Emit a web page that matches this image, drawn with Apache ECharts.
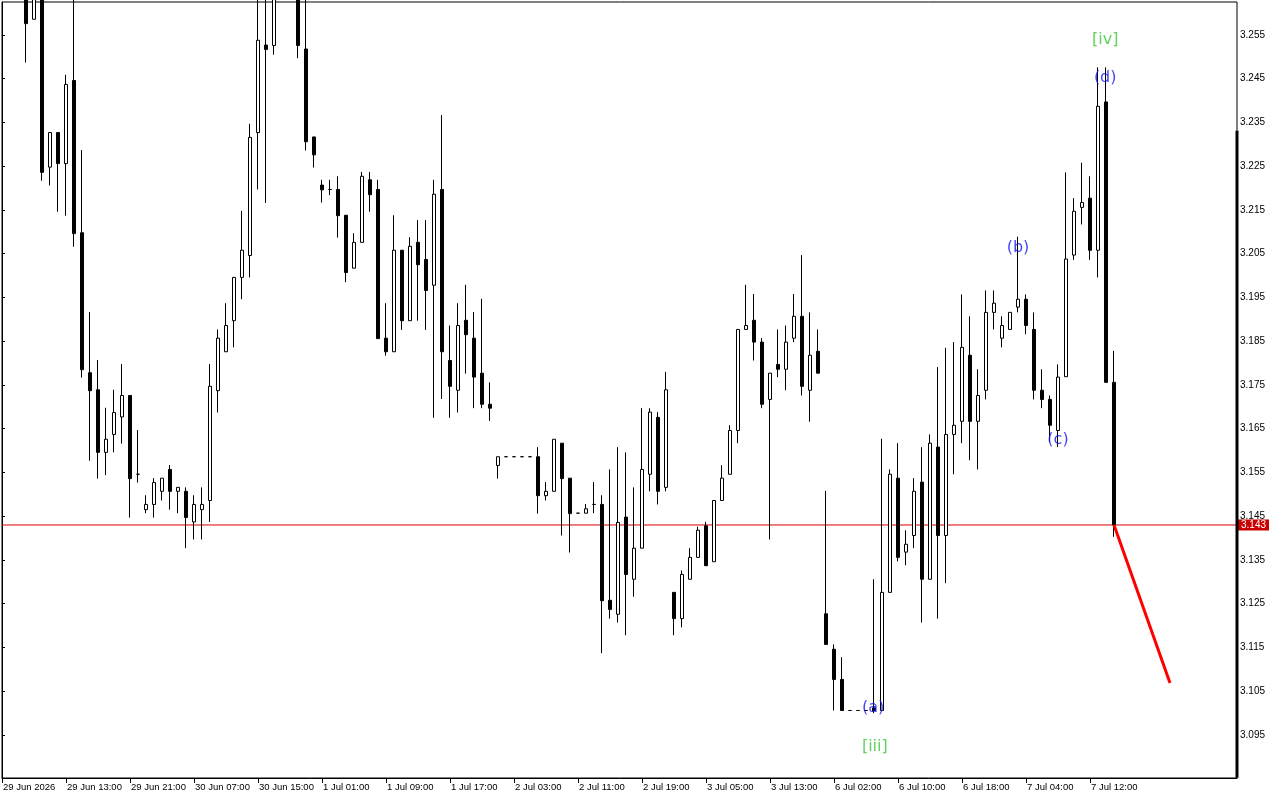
<!DOCTYPE html>
<html>
<head>
<meta charset="utf-8">
<script src="https://cdn.jsdelivr.net/npm/echarts@6/dist/echarts.min.js"></script>
<style>
html,body{margin:0;padding:0;background:#fff;}
#chart{width:1280px;height:800px;}
</style>
</head>
<body>
<div id="chart"></div>
<script>
// ---- DATA (hourly bars, index 0 = first bar at left edge) ----
const opens = [null,null,null,3.2660,3.2586,3.2650,3.2248,3.2327,3.2256,3.2446,
3.2098,3.1778,3.1739,3.1596,3.1637,3.1677,3.1726,3.1546,3.1465,3.1477,
3.1507,3.1557,3.1507,3.1507,3.1437,3.1465,3.1486,3.1737,3.1826,3.1897,
3.1996,3.2046,3.2327,3.2527,3.2526,null,null,3.2660,3.2518,3.2317,
3.2207,3.2197,3.2197,3.2138,3.2017,3.2076,3.2219,3.2197,3.1857,3.1826,
3.2058,3.1897,3.2076,3.2037,3.1978,3.2197,3.1806,3.1738,3.1898,3.1857,
3.1777,3.1706,3.1566,3.1586,3.1586,3.1586,3.1586,3.1586,3.1497,3.1507,
3.1617,3.1537,3.1457,3.1457,3.1477,3.1477,3.1258,3.1226,3.1448,3.1306,
3.1377,3.1546,3.1676,3.1516,3.1276,3.1216,3.1306,3.1356,3.1428,3.1346,
3.1486,3.1546,3.1646,3.1877,3.1898,3.1848,3.1717,3.1797,3.1786,3.1857,
3.1907,3.1738,3.1827,3.1227,3.1146,3.1077,3.1006,3.1006,3.1006,3.1012,
3.1006,3.1276,3.1537,3.1368,3.1406,3.1528,3.1306,3.1608,3.1406,3.1637,
3.1667,3.1818,3.1667,3.1738,3.1916,3.1857,3.1877,3.1928,3.1946,3.1877,
3.1738,3.1717,3.1646,3.1769,3.2047,3.2156,3.2177,3.2058,3.2397,3.1756];
const closes = [null,null,null,3.2576,3.2660,3.2236,3.2327,3.2256,3.2437,3.2096,
3.1785,3.1737,3.1596,3.1626,3.1687,3.1726,3.1536,3.1546,3.1477,3.1527,
3.1537,3.1507,3.1516,3.1447,3.1477,3.1477,3.1747,3.1857,3.1886,3.1996,
3.2058,3.2316,3.2538,3.2517,3.2650,null,null,3.2526,3.2306,3.2276,
3.2196,3.2197,3.2137,3.2007,3.2076,3.2227,3.2185,3.1856,3.1826,3.2058,
3.1897,3.2067,3.2025,3.1966,3.2186,3.1826,3.1747,3.1886,3.1865,3.1768,
3.1706,3.1697,3.1586,3.1586,3.1586,3.1586,3.1586,3.1497,3.1507,3.1626,
3.1536,3.1456,3.1457,3.1467,3.1477,3.1257,3.1237,3.1436,3.1317,3.1377,
3.1557,3.1688,3.1507,3.1739,3.1216,3.1317,3.1356,3.1418,3.1337,3.1486,
3.1537,3.1646,3.1877,3.1886,3.1848,3.1706,3.1777,3.1786,3.1848,3.1907,
3.1747,3.1818,3.1777,3.1157,3.1077,3.1006,3.1006,3.1006,3.1006,3.1005,
3.1276,3.1546,3.1356,3.1386,3.1507,3.1306,3.1617,3.1406,3.1637,3.1658,
3.1836,3.1667,3.1726,3.1916,3.1937,3.1886,3.1916,3.1946,3.1886,3.1738,
3.1717,3.1658,3.1768,3.2038,3.2147,3.2167,3.2058,3.2387,3.1756,3.1430];
const lows = [null,null,null,3.2487,3.2586,3.2217,3.2206,3.2146,3.2137,3.2066,
3.1767,3.1577,3.1536,3.1544,3.1596,3.1616,3.1447,3.1527,3.1457,3.1447,
3.1486,3.1465,3.1457,3.1377,3.1397,3.1397,3.1437,3.1687,3.1826,3.1836,
3.1946,3.1996,3.2197,3.2166,3.2505,null,null,3.2497,3.2286,3.2247,
3.2167,3.2184,3.2087,3.1985,3.2017,3.2076,3.2146,3.1856,3.1817,3.1826,
3.1876,3.1897,3.1897,3.1876,3.1675,3.1718,3.1675,3.1687,3.1776,3.1697,
3.1697,3.1668,3.1536,3.1586,3.1586,3.1586,3.1586,3.1456,3.1486,3.1507,
3.1406,3.1367,3.1457,3.1457,3.1457,3.1137,3.1216,3.1207,3.1178,3.1266,
3.1377,3.1507,3.1477,3.1507,3.1178,3.1196,3.1306,3.1356,3.1337,3.1346,
3.1486,3.1546,3.1617,3.1877,3.1806,3.1697,3.1397,3.1768,3.1738,3.1848,
3.1726,3.1666,3.1777,3.1157,3.1006,3.1006,3.1006,3.1006,3.1006,3.1000,
3.1006,3.1276,3.1347,3.1338,3.1377,3.1207,3.1306,3.1216,3.1297,3.1546,
3.1617,3.1578,3.1557,3.1717,3.1877,3.1836,3.1877,3.1916,3.1866,3.1717,
3.1697,3.1620,3.1608,3.1769,3.2036,3.2117,3.2036,3.1996,3.1756,3.1403];
const highs = [null,null,null,3.2680,3.2670,3.2660,3.2327,3.2327,3.2459,3.2650,
3.2287,3.1917,3.1807,3.1698,3.1739,3.1798,3.1726,3.1647,3.1498,3.1537,
3.1537,3.1567,3.1516,3.1516,3.1498,3.1516,3.1798,3.1877,3.1937,3.1996,
3.2148,3.2347,3.2660,3.2650,3.2660,null,null,3.2670,3.2640,3.2317,
3.2219,3.2219,3.2227,3.2138,3.2097,3.2237,3.2237,3.2219,3.1937,3.2138,
3.2058,3.2088,3.2127,3.2127,3.2219,3.2367,3.1886,3.1937,3.1979,3.1917,
3.1947,3.1756,3.1586,3.1586,3.1586,3.1586,3.1586,3.1608,3.1528,3.1626,
3.1617,3.1537,3.1457,3.1478,3.1528,3.1498,3.1557,3.1608,3.1596,3.1516,
3.1697,3.1697,3.1688,3.1780,3.1276,3.1326,3.1377,3.1426,3.1437,3.1486,
3.1567,3.1658,3.1877,3.1979,3.1958,3.1857,3.1777,3.1877,3.1886,3.1958,
3.2047,3.1916,3.1877,3.1508,3.1157,3.1128,3.1006,3.1006,3.1006,3.1306,
3.1627,3.1557,3.1617,3.1418,3.1537,3.1608,3.1637,3.1791,3.1835,3.1848,
3.1957,3.1907,3.1786,3.1966,3.1966,3.1907,3.1916,3.2089,3.1957,3.1916,
3.1786,3.1726,3.1797,3.2236,3.2177,3.2258,3.2227,3.2476,3.2476,3.1828];

// time axis tick labels (bar index -> label)
const timeTickIdx = [0,8,16,24,32,40,48,56,64,72,80,88,96,104,112,120,128,136];
const timeTickLabels = ['29 Jun 2026','29 Jun 13:00','29 Jun 21:00','30 Jun 07:00','30 Jun 15:00',
  '1 Jul 01:00','1 Jul 09:00','1 Jul 17:00','2 Jul 03:00','2 Jul 11:00','2 Jul 19:00',
  '3 Jul 05:00','3 Jul 13:00','6 Jul 02:00','6 Jul 10:00','6 Jul 18:00','7 Jul 04:00','7 Jul 12:00'];

// price axis tick labels
const priceTicks = [3.095,3.105,3.115,3.125,3.135,3.145,3.155,3.165,3.175,3.185,3.195,3.205,3.215,3.225,3.235,3.245,3.255];

// current price
const currentPrice = 3.143;

// Elliott wave labels
const waveText  = ['(a)','[iii]','(b)','(c)','(d)','[iv]'];
const waveIdx   = [108.9,109.1,127,132,137.9,137.9];
const wavePrice = [3.1011,3.0922,3.2063,3.1624,3.2451,3.2540];
const waveColor = ['#1414f0','#38c838','#1414f0','#1414f0','#1414f0','#38c838'];

// projection line (bar index, price)
const projIdx = [139,146];
const projPrice = [3.1430,3.1069];

// right-edge range marker (price from, price to)
const rangeBarPrice = [3.2331,3.0852];

// ---- BUILD ----
const yMin = 3.08517, yMax = 3.26254;
const xMin = 0, xMax = 154.375;

const candles = [];
for (let i = 0; i < opens.length; i++) {
  if (opens[i] == null) continue;
  candles.push([i, opens[i], closes[i], lows[i], highs[i]]);
}
const waveData = waveText.map((t, i) => ({
  value: [waveIdx[i], wavePrice[i]],
  label: { formatter: t, color: waveColor[i] }
}));

const font = 'Liberation Sans';
const chart = echarts.init(document.getElementById('chart'), null, {renderer: 'canvas'});
chart.setOption({
  animation: false,
  backgroundColor: '#ffffff',
  grid: { left: 2, top: 2, right: 43, bottom: 22, show: true, borderColor: '#000', borderWidth: 1, backgroundColor: '#fff' },
  xAxis: {
    type: 'value', min: xMin, max: xMax,
    splitLine: { show: false },
    axisLine: { show: true, onZero: false, lineStyle: { color: '#000', width: 1 } },
    axisTick: { show: true, customValues: timeTickIdx, length: 5, lineStyle: { color: '#000' } },
    axisLabel: {
      customValues: timeTickIdx, align: 'left', margin: 4, color: '#000',
      fontFamily: font, fontSize: 9.5, padding: [0,0,0,1],
      formatter: v => { const j = timeTickIdx.indexOf(Math.round(v)); return j >= 0 ? timeTickLabels[j] : ''; }
    }
  },
  yAxis: {
    type: 'value', position: 'right', min: yMin, max: yMax, scale: true,
    splitLine: { show: false },
    axisLine: { show: true, lineStyle: { color: '#000', width: 1 } },
    axisTick: { show: true, customValues: priceTicks, length: 3, lineStyle: { color: '#000' } },
    axisLabel: {
      customValues: priceTicks, margin: 3, color: '#000', fontFamily: font, fontSize: 10,
      formatter: v => v.toFixed(3)
    }
  },
  series: [
    {
      type: 'line',
      data: [[xMin, currentPrice], [xMax, currentPrice]],
      symbol: 'none', clip: false, silent: true,
      lineStyle: { color: '#e00000', width: 1 },
      endLabel: {
        show: true, distance: 1, formatter: currentPrice.toFixed(3),
        color: '#fff', backgroundColor: '#c80000', padding: [1, 3, 0, 3],
        fontFamily: font, fontSize: 10
      },
      z: 1
    },
    {
      type: 'candlestick',
      data: candles,
      encode: { x: 0, y: [1, 2, 3, 4] },
      barWidth: 4,
      clip: true,
      itemStyle: { color: '#ffffff', color0: '#000000', borderColor: '#000000', borderColor0: '#000000', borderWidth: 1 },
      emphasis: { disabled: true },
      z: 2
    },
    {
      type: 'line',
      data: projIdx.map((x, i) => [x, projPrice[i]]),
      symbol: 'none', clip: false,
      lineStyle: { color: '#ff0000', width: 3 },
      silent: true, z: 3
    },
    {
      type: 'line',
      data: rangeBarPrice.map(p => [xMax, p]),
      symbol: 'none', clip: false,
      lineStyle: { color: '#000', width: 3 },
      silent: true, z: 3
    },
    {
      type: 'scatter',
      data: waveData,
      symbol: 'circle',
      symbolSize: 0,
      itemStyle: { color: 'rgba(0,0,0,0)' },
      clip: false,
      silent: true,
      z: 4,
      label: { show: true, position: 'inside', fontFamily: 'DejaVu Sans', fontSize: 16 }
    }
  ]
});
</script>
</body>
</html>
